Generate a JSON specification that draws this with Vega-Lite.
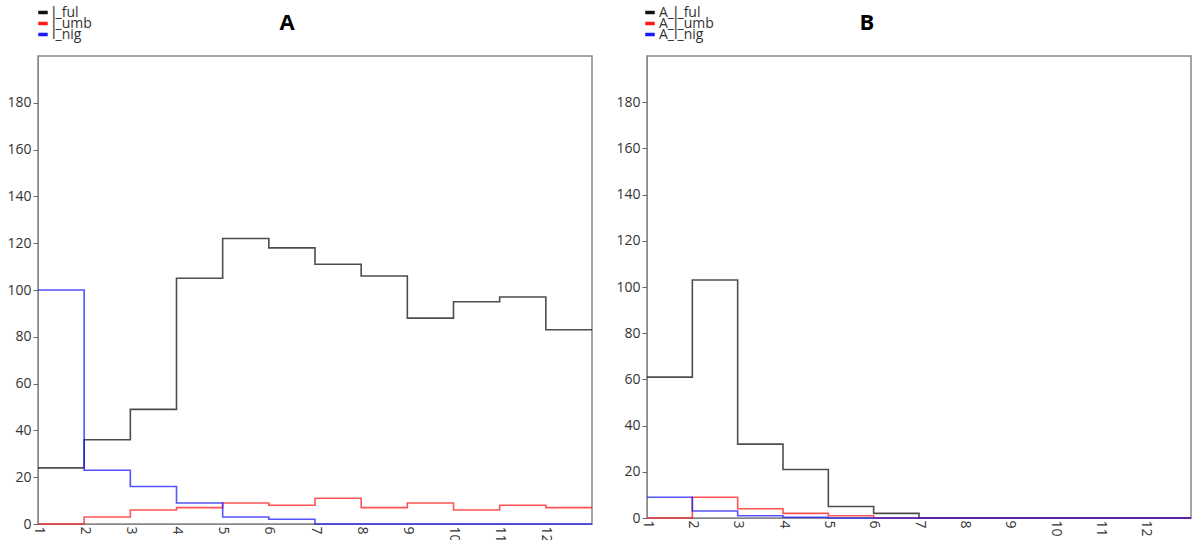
{
  "$schema": "https://vega.github.io/schema/vega-lite/v6.json",
  "padding": {"left": 6, "top": 8, "right": 0, "bottom": 0},
  "background": "white",
  "config": {
    "font": "Open Sans",
    "view": {"stroke": "#888888", "strokeWidth": 1.5},
    "axis": {"grid": false, "domainColor": "#888888", "tickColor": "#666666", "labelColor": "#333333", "labelFontSize": 14, "tickSize": 5, "title": null},
    "concat": {"spacing": 19}
  },
  "datasets": {
    "pts": [
      {"panel": "A", "series": "l_ful", "x": 1, "y": 24},
      {"panel": "A", "series": "l_ful", "x": 2, "y": 36},
      {"panel": "A", "series": "l_ful", "x": 3, "y": 49},
      {"panel": "A", "series": "l_ful", "x": 4, "y": 105},
      {"panel": "A", "series": "l_ful", "x": 5, "y": 122},
      {"panel": "A", "series": "l_ful", "x": 6, "y": 118},
      {"panel": "A", "series": "l_ful", "x": 7, "y": 111},
      {"panel": "A", "series": "l_ful", "x": 8, "y": 106},
      {"panel": "A", "series": "l_ful", "x": 9, "y": 88},
      {"panel": "A", "series": "l_ful", "x": 10, "y": 95},
      {"panel": "A", "series": "l_ful", "x": 11, "y": 97},
      {"panel": "A", "series": "l_ful", "x": 12, "y": 83},
      {"panel": "A", "series": "l_ful", "x": 13, "y": 83},
      {"panel": "A", "series": "l_umb", "x": 1, "y": 0},
      {"panel": "A", "series": "l_umb", "x": 2, "y": 3},
      {"panel": "A", "series": "l_umb", "x": 3, "y": 6},
      {"panel": "A", "series": "l_umb", "x": 4, "y": 7},
      {"panel": "A", "series": "l_umb", "x": 5, "y": 9},
      {"panel": "A", "series": "l_umb", "x": 6, "y": 8},
      {"panel": "A", "series": "l_umb", "x": 7, "y": 11},
      {"panel": "A", "series": "l_umb", "x": 8, "y": 7},
      {"panel": "A", "series": "l_umb", "x": 9, "y": 9},
      {"panel": "A", "series": "l_umb", "x": 10, "y": 6},
      {"panel": "A", "series": "l_umb", "x": 11, "y": 8},
      {"panel": "A", "series": "l_umb", "x": 12, "y": 7},
      {"panel": "A", "series": "l_umb", "x": 13, "y": 7},
      {"panel": "A", "series": "l_nig", "x": 1, "y": 100},
      {"panel": "A", "series": "l_nig", "x": 2, "y": 23},
      {"panel": "A", "series": "l_nig", "x": 3, "y": 16},
      {"panel": "A", "series": "l_nig", "x": 4, "y": 9},
      {"panel": "A", "series": "l_nig", "x": 5, "y": 3},
      {"panel": "A", "series": "l_nig", "x": 6, "y": 2},
      {"panel": "A", "series": "l_nig", "x": 7, "y": 0},
      {"panel": "A", "series": "l_nig", "x": 8, "y": 0},
      {"panel": "A", "series": "l_nig", "x": 9, "y": 0},
      {"panel": "A", "series": "l_nig", "x": 10, "y": 0},
      {"panel": "A", "series": "l_nig", "x": 11, "y": 0},
      {"panel": "A", "series": "l_nig", "x": 12, "y": 0},
      {"panel": "A", "series": "l_nig", "x": 13, "y": 0},
      {"panel": "B", "series": "A_l_ful", "x": 1, "y": 61},
      {"panel": "B", "series": "A_l_ful", "x": 2, "y": 103},
      {"panel": "B", "series": "A_l_ful", "x": 3, "y": 32},
      {"panel": "B", "series": "A_l_ful", "x": 4, "y": 21},
      {"panel": "B", "series": "A_l_ful", "x": 5, "y": 5},
      {"panel": "B", "series": "A_l_ful", "x": 6, "y": 2},
      {"panel": "B", "series": "A_l_ful", "x": 7, "y": 0},
      {"panel": "B", "series": "A_l_ful", "x": 8, "y": 0},
      {"panel": "B", "series": "A_l_ful", "x": 9, "y": 0},
      {"panel": "B", "series": "A_l_ful", "x": 10, "y": 0},
      {"panel": "B", "series": "A_l_ful", "x": 11, "y": 0},
      {"panel": "B", "series": "A_l_ful", "x": 12, "y": 0},
      {"panel": "B", "series": "A_l_ful", "x": 13, "y": 0},
      {"panel": "B", "series": "A_l_umb", "x": 1, "y": 0},
      {"panel": "B", "series": "A_l_umb", "x": 2, "y": 9},
      {"panel": "B", "series": "A_l_umb", "x": 3, "y": 4},
      {"panel": "B", "series": "A_l_umb", "x": 4, "y": 2},
      {"panel": "B", "series": "A_l_umb", "x": 5, "y": 1},
      {"panel": "B", "series": "A_l_umb", "x": 6, "y": 0},
      {"panel": "B", "series": "A_l_umb", "x": 7, "y": 0},
      {"panel": "B", "series": "A_l_umb", "x": 8, "y": 0},
      {"panel": "B", "series": "A_l_umb", "x": 9, "y": 0},
      {"panel": "B", "series": "A_l_umb", "x": 10, "y": 0},
      {"panel": "B", "series": "A_l_umb", "x": 11, "y": 0},
      {"panel": "B", "series": "A_l_umb", "x": 12, "y": 0},
      {"panel": "B", "series": "A_l_umb", "x": 13, "y": 0},
      {"panel": "B", "series": "A_l_nig", "x": 1, "y": 9},
      {"panel": "B", "series": "A_l_nig", "x": 2, "y": 3},
      {"panel": "B", "series": "A_l_nig", "x": 3, "y": 1},
      {"panel": "B", "series": "A_l_nig", "x": 4, "y": 0.3},
      {"panel": "B", "series": "A_l_nig", "x": 5, "y": 0},
      {"panel": "B", "series": "A_l_nig", "x": 6, "y": 0},
      {"panel": "B", "series": "A_l_nig", "x": 7, "y": 0},
      {"panel": "B", "series": "A_l_nig", "x": 8, "y": 0},
      {"panel": "B", "series": "A_l_nig", "x": 9, "y": 0},
      {"panel": "B", "series": "A_l_nig", "x": 10, "y": 0},
      {"panel": "B", "series": "A_l_nig", "x": 11, "y": 0},
      {"panel": "B", "series": "A_l_nig", "x": 12, "y": 0},
      {"panel": "B", "series": "A_l_nig", "x": 13, "y": 0}
    ]
  },
  "resolve": {"scale": {"color": "independent"}},
  "hconcat": [
    {
      "width": 554,
      "height": 468,
      "title": {"text": "A", "fontSize": 22, "fontWeight": "bold", "color": "black", "anchor": "middle", "dx": -28, "offset": -26},
      "data": {"name": "pts"},
      "transform": [{"filter": "datum.panel === 'A'"}],
      "mark": {"type": "line", "interpolate": "step-after", "strokeWidth": 1.6, "opacity": 0.75},
      "encoding": {
        "x": {"field": "x", "type": "quantitative", "scale": {"domain": [1, 13], "nice": false, "zero": false},
          "axis": {"values": [1,2,3,4,5,6,7,8,9,10,11,12], "labelAngle": 90, "labelAlign": "left", "labelBaseline": "middle", "ticks": false, "labelPadding": 2}},
        "y": {"field": "y", "type": "quantitative", "scale": {"domain": [0, 200], "nice": false},
          "axis": {"values": [0,20,40,60,80,100,120,140,160,180]}},
        "color": {"field": "series", "type": "nominal",
          "scale": {"domain": ["l_ful", "l_umb", "l_nig"], "range": ["#111111", "#ff1a1a", "#1a1aff"]},
          "legend": {"orient": "none", "legendX": -2, "legendY": -47, "title": null, "symbolType": "stroke", "symbolStrokeWidth": 3.5, "symbolSize": 90, "clipHeight": 7, "rowPadding": -10, "labelFontSize": 14, "labelColor": "#333333", "labelOffset": 2, "symbolOpacity": 1}}
      }
    },
    {
      "width": 544,
      "height": 462,
      "title": {"text": "B", "fontSize": 22, "fontWeight": "bold", "color": "black", "anchor": "middle", "dx": -52, "offset": -26},
      "data": {"name": "pts"},
      "transform": [{"filter": "datum.panel === 'B'"}],
      "mark": {"type": "line", "interpolate": "step-after", "strokeWidth": 1.6, "opacity": 0.75},
      "encoding": {
        "x": {"field": "x", "type": "quantitative", "scale": {"domain": [1, 13], "nice": false, "zero": false},
          "axis": {"values": [1,2,3,4,5,6,7,8,9,10,11,12], "labelAngle": 90, "labelAlign": "left", "labelBaseline": "middle", "ticks": false, "labelPadding": 2}},
        "y": {"field": "y", "type": "quantitative", "scale": {"domain": [0, 200], "nice": false},
          "axis": {"values": [0,20,40,60,80,100,120,140,160,180]}},
        "color": {"field": "series", "type": "nominal",
          "scale": {"domain": ["A_l_ful", "A_l_umb", "A_l_nig"], "range": ["#111111", "#ff1a1a", "#1a1aff"]},
          "legend": {"orient": "none", "legendX": -4, "legendY": -47, "title": null, "symbolType": "stroke", "symbolStrokeWidth": 3.5, "symbolSize": 90, "clipHeight": 7, "rowPadding": -10, "labelFontSize": 14, "labelColor": "#333333", "labelOffset": 2, "symbolOpacity": 1}}
      }
    }
  ]
}
